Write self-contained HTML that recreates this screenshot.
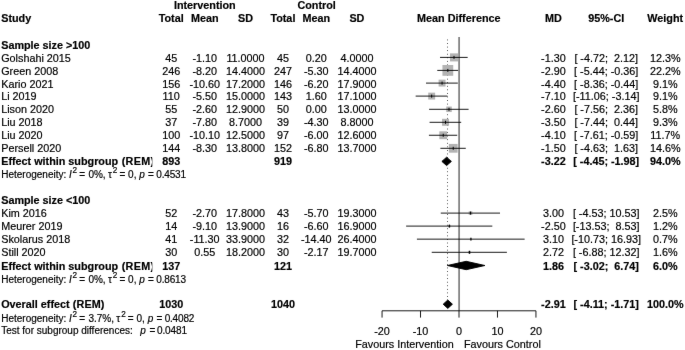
<!DOCTYPE html>
<html><head><meta charset="utf-8"><title>Forest plot</title>
<style>
html,body{margin:0;padding:0;background:#fff;}
svg{display:block;}
text{font-family:"Liberation Sans",sans-serif;fill:#000;white-space:pre;stroke:#000;stroke-width:0.18px;}
</style></head><body>
<svg width="685" height="350" viewBox="0 0 685 350">
<defs><filter id="soft" x="0" y="0" width="100%" height="100%" filterUnits="objectBoundingBox" color-interpolation-filters="sRGB"><feConvolveMatrix order="3" kernelMatrix="0.005 0.04 0.005 0.04 0.82 0.04 0.005 0.04 0.005" divisor="1" edgeMode="duplicate" preserveAlpha="false"/></filter><clipPath id="c1"><rect x="0" y="0" width="152.3" height="350"/></clipPath></defs>
<g filter="url(#soft)">
<rect width="685" height="350" fill="#fff"/>
<line x1="459.10" y1="37.0" x2="459.10" y2="310.8" stroke="#828282" stroke-width="1.75"/>
<line x1="447.50" y1="39.55" x2="447.50" y2="300.20" stroke="#000" stroke-width="0.8" stroke-dasharray="0.8,2.7625"/>
<rect x="449.98" y="53.38" width="8.04" height="8.04" fill="#b3b3b3"/>
<line x1="440.04" y1="57.40" x2="467.66" y2="57.40" stroke="#000" stroke-width="0.9"/>
<line x1="454.00" y1="55.90" x2="454.00" y2="58.90" stroke="#000" stroke-width="1.0"/>
<rect x="442.44" y="65.00" width="10.80" height="10.80" fill="#b3b3b3"/>
<line x1="437.27" y1="70.40" x2="458.11" y2="70.40" stroke="#000" stroke-width="0.9"/>
<line x1="447.84" y1="68.90" x2="447.84" y2="71.90" stroke="#000" stroke-width="1.0"/>
<rect x="438.61" y="79.64" width="6.91" height="6.91" fill="#b3b3b3"/>
<line x1="426.03" y1="83.10" x2="457.81" y2="83.10" stroke="#000" stroke-width="0.9"/>
<line x1="442.07" y1="81.60" x2="442.07" y2="84.60" stroke="#000" stroke-width="1.0"/>
<rect x="428.23" y="92.64" width="6.91" height="6.91" fill="#b3b3b3"/>
<line x1="415.65" y1="96.10" x2="447.42" y2="96.10" stroke="#000" stroke-width="0.9"/>
<line x1="431.68" y1="94.60" x2="431.68" y2="97.60" stroke="#000" stroke-width="1.0"/>
<rect x="446.24" y="106.54" width="5.52" height="5.52" fill="#b3b3b3"/>
<line x1="429.11" y1="109.30" x2="468.58" y2="109.30" stroke="#000" stroke-width="0.9"/>
<line x1="449.00" y1="107.80" x2="449.00" y2="110.80" stroke="#000" stroke-width="1.0"/>
<rect x="442.04" y="118.80" width="6.99" height="6.99" fill="#b3b3b3"/>
<line x1="429.57" y1="122.30" x2="461.19" y2="122.30" stroke="#000" stroke-width="0.9"/>
<line x1="445.53" y1="120.80" x2="445.53" y2="123.80" stroke="#000" stroke-width="1.0"/>
<rect x="439.31" y="131.33" width="7.84" height="7.84" fill="#b3b3b3"/>
<line x1="428.92" y1="135.25" x2="457.23" y2="135.25" stroke="#000" stroke-width="0.9"/>
<line x1="443.23" y1="133.75" x2="443.23" y2="136.75" stroke="#000" stroke-width="1.0"/>
<rect x="448.85" y="143.92" width="8.76" height="8.76" fill="#b3b3b3"/>
<line x1="440.39" y1="148.30" x2="465.77" y2="148.30" stroke="#000" stroke-width="0.9"/>
<line x1="453.23" y1="146.80" x2="453.23" y2="149.80" stroke="#000" stroke-width="1.0"/>
<polygon points="441.88,161.40 446.61,157.20 451.38,161.40 446.61,165.60" fill="#000" stroke="#000" stroke-width="0.9" stroke-linejoin="miter"/>
<rect x="468.73" y="211.29" width="3.62" height="3.62" fill="#b3b3b3"/>
<line x1="440.77" y1="213.10" x2="500.01" y2="213.10" stroke="#000" stroke-width="0.9"/>
<line x1="470.54" y1="211.60" x2="470.54" y2="214.60" stroke="#000" stroke-width="1.0"/>
<rect x="448.13" y="224.84" width="2.51" height="2.51" fill="#b3b3b3"/>
<line x1="406.14" y1="226.10" x2="492.32" y2="226.10" stroke="#000" stroke-width="0.9"/>
<line x1="449.38" y1="224.60" x2="449.38" y2="227.60" stroke="#000" stroke-width="1.0"/>
<rect x="469.97" y="238.19" width="1.92" height="1.92" fill="#b3b3b3"/>
<line x1="416.92" y1="239.15" x2="524.64" y2="239.15" stroke="#000" stroke-width="0.9"/>
<line x1="470.93" y1="237.65" x2="470.93" y2="240.65" stroke="#000" stroke-width="1.0"/>
<rect x="468.02" y="250.85" width="2.90" height="2.90" fill="#b3b3b3"/>
<line x1="431.73" y1="252.30" x2="506.90" y2="252.30" stroke="#000" stroke-width="0.9"/>
<line x1="469.47" y1="250.80" x2="469.47" y2="253.80" stroke="#000" stroke-width="1.0"/>
<polygon points="447.38,265.50 466.16,261.30 484.93,265.50 466.16,269.70" fill="#000" stroke="#000" stroke-width="0.9" stroke-linejoin="miter"/>
<polygon points="443.19,304.20 447.80,300.00 452.42,304.20 447.80,308.40" fill="#000" stroke="#000" stroke-width="0.9" stroke-linejoin="miter"/>
<line x1="382.05" y1="310.8" x2="535.95" y2="310.8" stroke="#000" stroke-width="0.9"/>
<line x1="382.05" y1="310.8" x2="382.05" y2="317.60" stroke="#000" stroke-width="0.9"/>
<line x1="420.52" y1="310.8" x2="420.52" y2="317.60" stroke="#000" stroke-width="0.9"/>
<line x1="459.00" y1="310.8" x2="459.00" y2="317.60" stroke="#000" stroke-width="0.9"/>
<line x1="497.48" y1="310.8" x2="497.48" y2="317.60" stroke="#000" stroke-width="0.9"/>
<line x1="535.95" y1="310.8" x2="535.95" y2="317.60" stroke="#000" stroke-width="0.9"/>
<text x="204.80" y="9.00" text-anchor="middle" font-size="10.8" font-weight="bold">Intervention</text>
<text x="316.60" y="9.00" text-anchor="middle" font-size="10.8" font-weight="bold">Control</text>
<text x="1.20" y="22.00" text-anchor="start" font-size="10.8" font-weight="bold">Study</text>
<text x="171.20" y="22.00" text-anchor="middle" font-size="10.8" font-weight="bold">Total</text>
<text x="204.70" y="22.00" text-anchor="middle" font-size="10.8" font-weight="bold">Mean</text>
<text x="245.50" y="22.00" text-anchor="middle" font-size="10.8" font-weight="bold">SD</text>
<text x="282.90" y="22.00" text-anchor="middle" font-size="10.8" font-weight="bold">Total</text>
<text x="316.20" y="22.00" text-anchor="middle" font-size="10.8" font-weight="bold">Mean</text>
<text x="356.90" y="22.00" text-anchor="middle" font-size="10.8" font-weight="bold">SD</text>
<text x="553.40" y="22.00" text-anchor="middle" font-size="10.8" font-weight="bold">MD</text>
<text x="606.20" y="22.00" text-anchor="middle" font-size="10.8" font-weight="bold">95%-CI</text>
<text x="665.20" y="22.00" text-anchor="middle" font-size="10.8" font-weight="bold">Weight</text>
<text x="458.80" y="22.00" text-anchor="middle" font-size="10.8" font-weight="bold">Mean Difference</text>
<text x="1.20" y="49.00" text-anchor="start" font-size="10.8" font-weight="bold">Sample size &gt;100</text>
<text x="1.20" y="62.00" text-anchor="start" font-size="10.8">Golshahi 2015</text>
<text x="171.20" y="62.00" text-anchor="middle" font-size="10.8">45</text>
<text x="204.70" y="62.00" text-anchor="middle" font-size="10.8">-1.10</text>
<text x="245.50" y="62.00" text-anchor="middle" font-size="10.8">11.0000</text>
<text x="282.90" y="62.00" text-anchor="middle" font-size="10.8">45</text>
<text x="316.20" y="62.00" text-anchor="middle" font-size="10.8">0.20</text>
<text x="356.90" y="62.00" text-anchor="middle" font-size="10.8">4.0000</text>
<text x="553.40" y="62.00" text-anchor="middle" font-size="10.8">-1.30</text>
<text x="606.20" y="62.00" text-anchor="middle" font-size="10.8">[ -4.72;  2.12]</text>
<text x="665.20" y="62.00" text-anchor="middle" font-size="10.8">12.3%</text>
<text x="1.20" y="75.00" text-anchor="start" font-size="10.8">Green 2008</text>
<text x="171.20" y="75.00" text-anchor="middle" font-size="10.8">246</text>
<text x="204.70" y="75.00" text-anchor="middle" font-size="10.8">-8.20</text>
<text x="245.50" y="75.00" text-anchor="middle" font-size="10.8">14.4000</text>
<text x="282.90" y="75.00" text-anchor="middle" font-size="10.8">247</text>
<text x="316.20" y="75.00" text-anchor="middle" font-size="10.8">-5.30</text>
<text x="356.90" y="75.00" text-anchor="middle" font-size="10.8">14.4000</text>
<text x="553.40" y="75.00" text-anchor="middle" font-size="10.8">-2.90</text>
<text x="606.20" y="75.00" text-anchor="middle" font-size="10.8">[ -5.44; -0.36]</text>
<text x="665.20" y="75.00" text-anchor="middle" font-size="10.8">22.2%</text>
<text x="1.20" y="88.00" text-anchor="start" font-size="10.8">Kario 2021</text>
<text x="171.20" y="88.00" text-anchor="middle" font-size="10.8">156</text>
<text x="204.70" y="88.00" text-anchor="middle" font-size="10.8">-10.60</text>
<text x="245.50" y="88.00" text-anchor="middle" font-size="10.8">17.2000</text>
<text x="282.90" y="88.00" text-anchor="middle" font-size="10.8">146</text>
<text x="316.20" y="88.00" text-anchor="middle" font-size="10.8">-6.20</text>
<text x="356.90" y="88.00" text-anchor="middle" font-size="10.8">17.9000</text>
<text x="553.40" y="88.00" text-anchor="middle" font-size="10.8">-4.40</text>
<text x="606.20" y="88.00" text-anchor="middle" font-size="10.8">[ -8.36; -0.44]</text>
<text x="665.20" y="88.00" text-anchor="middle" font-size="10.8">9.1%</text>
<text x="1.20" y="100.00" text-anchor="start" font-size="10.8">Li 2019</text>
<text x="171.20" y="100.00" text-anchor="middle" font-size="10.8">110</text>
<text x="204.70" y="100.00" text-anchor="middle" font-size="10.8">-5.50</text>
<text x="245.50" y="100.00" text-anchor="middle" font-size="10.8">15.0000</text>
<text x="282.90" y="100.00" text-anchor="middle" font-size="10.8">143</text>
<text x="316.20" y="100.00" text-anchor="middle" font-size="10.8">1.60</text>
<text x="356.90" y="100.00" text-anchor="middle" font-size="10.8">17.1000</text>
<text x="553.40" y="100.00" text-anchor="middle" font-size="10.8">-7.10</text>
<text x="606.20" y="100.00" text-anchor="middle" font-size="10.8">[-11.06; -3.14]</text>
<text x="665.20" y="100.00" text-anchor="middle" font-size="10.8">9.1%</text>
<text x="1.20" y="113.00" text-anchor="start" font-size="10.8">Lison 2020</text>
<text x="171.20" y="113.00" text-anchor="middle" font-size="10.8">55</text>
<text x="204.70" y="113.00" text-anchor="middle" font-size="10.8">-2.60</text>
<text x="245.50" y="113.00" text-anchor="middle" font-size="10.8">12.9000</text>
<text x="282.90" y="113.00" text-anchor="middle" font-size="10.8">50</text>
<text x="316.20" y="113.00" text-anchor="middle" font-size="10.8">0.00</text>
<text x="356.90" y="113.00" text-anchor="middle" font-size="10.8">13.0000</text>
<text x="553.40" y="113.00" text-anchor="middle" font-size="10.8">-2.60</text>
<text x="606.20" y="113.00" text-anchor="middle" font-size="10.8">[ -7.56;  2.36]</text>
<text x="665.20" y="113.00" text-anchor="middle" font-size="10.8">5.8%</text>
<text x="1.20" y="126.00" text-anchor="start" font-size="10.8">Liu 2018</text>
<text x="171.20" y="126.00" text-anchor="middle" font-size="10.8">37</text>
<text x="204.70" y="126.00" text-anchor="middle" font-size="10.8">-7.80</text>
<text x="245.50" y="126.00" text-anchor="middle" font-size="10.8">8.7000</text>
<text x="282.90" y="126.00" text-anchor="middle" font-size="10.8">39</text>
<text x="316.20" y="126.00" text-anchor="middle" font-size="10.8">-4.30</text>
<text x="356.90" y="126.00" text-anchor="middle" font-size="10.8">8.8000</text>
<text x="553.40" y="126.00" text-anchor="middle" font-size="10.8">-3.50</text>
<text x="606.20" y="126.00" text-anchor="middle" font-size="10.8">[ -7.44;  0.44]</text>
<text x="665.20" y="126.00" text-anchor="middle" font-size="10.8">9.3%</text>
<text x="1.20" y="139.00" text-anchor="start" font-size="10.8">Liu 2020</text>
<text x="171.20" y="139.00" text-anchor="middle" font-size="10.8">100</text>
<text x="204.70" y="139.00" text-anchor="middle" font-size="10.8">-10.10</text>
<text x="245.50" y="139.00" text-anchor="middle" font-size="10.8">12.5000</text>
<text x="282.90" y="139.00" text-anchor="middle" font-size="10.8">97</text>
<text x="316.20" y="139.00" text-anchor="middle" font-size="10.8">-6.00</text>
<text x="356.90" y="139.00" text-anchor="middle" font-size="10.8">12.6000</text>
<text x="553.40" y="139.00" text-anchor="middle" font-size="10.8">-4.10</text>
<text x="606.20" y="139.00" text-anchor="middle" font-size="10.8">[ -7.61; -0.59]</text>
<text x="665.20" y="139.00" text-anchor="middle" font-size="10.8">11.7%</text>
<text x="1.20" y="152.00" text-anchor="start" font-size="10.8">Persell 2020</text>
<text x="171.20" y="152.00" text-anchor="middle" font-size="10.8">144</text>
<text x="204.70" y="152.00" text-anchor="middle" font-size="10.8">-8.30</text>
<text x="245.50" y="152.00" text-anchor="middle" font-size="10.8">13.8000</text>
<text x="282.90" y="152.00" text-anchor="middle" font-size="10.8">152</text>
<text x="316.20" y="152.00" text-anchor="middle" font-size="10.8">-6.80</text>
<text x="356.90" y="152.00" text-anchor="middle" font-size="10.8">13.7000</text>
<text x="553.40" y="152.00" text-anchor="middle" font-size="10.8">-1.50</text>
<text x="606.20" y="152.00" text-anchor="middle" font-size="10.8">[ -4.63;  1.63]</text>
<text x="665.20" y="152.00" text-anchor="middle" font-size="10.8">14.6%</text>
<text x="1.20" y="165.00" text-anchor="start" font-size="10.8" font-weight="bold" clip-path="url(#c1)">Effect within subgroup <tspan dx="0.5" letter-spacing="0.3">(REM)</tspan></text>
<text x="171.20" y="165.00" text-anchor="middle" font-size="10.8" font-weight="bold">893</text>
<text x="282.90" y="165.00" text-anchor="middle" font-size="10.8" font-weight="bold">919</text>
<text x="553.40" y="165.00" text-anchor="middle" font-size="10.8" font-weight="bold">-3.22</text>
<text x="606.20" y="165.00" text-anchor="middle" font-size="10.8" font-weight="bold">[ -4.45; -1.98]</text>
<text x="665.20" y="165.00" text-anchor="middle" font-size="10.8" font-weight="bold">94.0%</text>
<text x="1.20" y="178.00" text-anchor="start" font-size="10.0">Heterogeneity: <tspan font-style="italic">I</tspan><tspan dx="0.6" dy="-4.6" font-size="8.2">2</tspan><tspan dy="4.6" dx="-0.6"> = </tspan><tspan dx="0.6">0%,</tspan><tspan dx="-0.4"> τ</tspan><tspan dx="0.9" dy="-4.6" font-size="8.2">2</tspan><tspan dy="4.6" dx="-0.7"> = 0,</tspan><tspan dx="0.1"> </tspan><tspan font-style="italic">p</tspan><tspan dx="0.4"> = </tspan><tspan dx="-0.4" letter-spacing="-0.18">0.4531</tspan></text>
<text x="1.20" y="204.00" text-anchor="start" font-size="10.8" font-weight="bold">Sample size &lt;100</text>
<text x="1.20" y="217.00" text-anchor="start" font-size="10.8">Kim 2016</text>
<text x="171.20" y="217.00" text-anchor="middle" font-size="10.8">52</text>
<text x="204.70" y="217.00" text-anchor="middle" font-size="10.8">-2.70</text>
<text x="245.50" y="217.00" text-anchor="middle" font-size="10.8">17.8000</text>
<text x="282.90" y="217.00" text-anchor="middle" font-size="10.8">43</text>
<text x="316.20" y="217.00" text-anchor="middle" font-size="10.8">-5.70</text>
<text x="356.90" y="217.00" text-anchor="middle" font-size="10.8">19.3000</text>
<text x="553.40" y="217.00" text-anchor="middle" font-size="10.8">3.00</text>
<text x="606.20" y="217.00" text-anchor="middle" font-size="10.8">[ -4.53; 10.53]</text>
<text x="665.20" y="217.00" text-anchor="middle" font-size="10.8">2.5%</text>
<text x="1.20" y="230.00" text-anchor="start" font-size="10.8">Meurer 2019</text>
<text x="171.20" y="230.00" text-anchor="middle" font-size="10.8">14</text>
<text x="204.70" y="230.00" text-anchor="middle" font-size="10.8">-9.10</text>
<text x="245.50" y="230.00" text-anchor="middle" font-size="10.8">13.9000</text>
<text x="282.90" y="230.00" text-anchor="middle" font-size="10.8">16</text>
<text x="316.20" y="230.00" text-anchor="middle" font-size="10.8">-6.60</text>
<text x="356.90" y="230.00" text-anchor="middle" font-size="10.8">16.9000</text>
<text x="553.40" y="230.00" text-anchor="middle" font-size="10.8">-2.50</text>
<text x="606.20" y="230.00" text-anchor="middle" font-size="10.8">[-13.53;  8.53]</text>
<text x="665.20" y="230.00" text-anchor="middle" font-size="10.8">1.2%</text>
<text x="1.20" y="243.00" text-anchor="start" font-size="10.8">Skolarus 2018</text>
<text x="171.20" y="243.00" text-anchor="middle" font-size="10.8">41</text>
<text x="204.70" y="243.00" text-anchor="middle" font-size="10.8">-11.30</text>
<text x="245.50" y="243.00" text-anchor="middle" font-size="10.8">33.9000</text>
<text x="282.90" y="243.00" text-anchor="middle" font-size="10.8">32</text>
<text x="316.20" y="243.00" text-anchor="middle" font-size="10.8">-14.40</text>
<text x="356.90" y="243.00" text-anchor="middle" font-size="10.8">26.4000</text>
<text x="553.40" y="243.00" text-anchor="middle" font-size="10.8">3.10</text>
<text x="606.20" y="243.00" text-anchor="middle" font-size="10.8">[-10.73; 16.93]</text>
<text x="665.20" y="243.00" text-anchor="middle" font-size="10.8">0.7%</text>
<text x="1.20" y="256.00" text-anchor="start" font-size="10.8">Still 2020</text>
<text x="171.20" y="256.00" text-anchor="middle" font-size="10.8">30</text>
<text x="204.70" y="256.00" text-anchor="middle" font-size="10.8">0.55</text>
<text x="245.50" y="256.00" text-anchor="middle" font-size="10.8">18.2000</text>
<text x="282.90" y="256.00" text-anchor="middle" font-size="10.8">30</text>
<text x="316.20" y="256.00" text-anchor="middle" font-size="10.8">-2.17</text>
<text x="356.90" y="256.00" text-anchor="middle" font-size="10.8">19.7000</text>
<text x="553.40" y="256.00" text-anchor="middle" font-size="10.8">2.72</text>
<text x="606.20" y="256.00" text-anchor="middle" font-size="10.8">[ -6.88; 12.32]</text>
<text x="665.20" y="256.00" text-anchor="middle" font-size="10.8">1.6%</text>
<text x="1.20" y="270.00" text-anchor="start" font-size="10.8" font-weight="bold" clip-path="url(#c1)">Effect within subgroup <tspan dx="0.5" letter-spacing="0.3">(REM)</tspan></text>
<text x="171.20" y="270.00" text-anchor="middle" font-size="10.8" font-weight="bold">137</text>
<text x="282.90" y="270.00" text-anchor="middle" font-size="10.8" font-weight="bold">121</text>
<text x="553.40" y="270.00" text-anchor="middle" font-size="10.8" font-weight="bold">1.86</text>
<text x="606.20" y="270.00" text-anchor="middle" font-size="10.8" font-weight="bold">[ -3.02;  6.74]</text>
<text x="665.20" y="270.00" text-anchor="middle" font-size="10.8" font-weight="bold">6.0%</text>
<text x="1.20" y="283.00" text-anchor="start" font-size="10.0">Heterogeneity: <tspan font-style="italic">I</tspan><tspan dx="0.6" dy="-4.6" font-size="8.2">2</tspan><tspan dy="4.6" dx="-0.6"> = </tspan><tspan dx="0.6">0%,</tspan><tspan dx="-0.4"> τ</tspan><tspan dx="0.9" dy="-4.6" font-size="8.2">2</tspan><tspan dy="4.6" dx="-0.7"> = 0,</tspan><tspan dx="0.1"> </tspan><tspan font-style="italic">p</tspan><tspan dx="0.4"> = </tspan><tspan dx="-0.4" letter-spacing="-0.18">0.8613</tspan></text>
<text x="1.20" y="308.00" text-anchor="start" font-size="10.8" font-weight="bold">Overall effect <tspan dx="0.2" letter-spacing="0.1">(REM)</tspan></text>
<text x="171.20" y="308.00" text-anchor="middle" font-size="10.8" font-weight="bold">1030</text>
<text x="282.90" y="308.00" text-anchor="middle" font-size="10.8" font-weight="bold">1040</text>
<text x="553.40" y="308.00" text-anchor="middle" font-size="10.8" font-weight="bold">-2.91</text>
<text x="606.20" y="308.00" text-anchor="middle" font-size="10.8" font-weight="bold">[ -4.11; -1.71]</text>
<text x="665.20" y="308.00" text-anchor="middle" font-size="10.8" font-weight="bold">100.0%</text>
<text x="1.20" y="322.00" text-anchor="start" font-size="10.0">Heterogeneity: <tspan font-style="italic">I</tspan><tspan dx="0.6" dy="-4.6" font-size="8.2">2</tspan><tspan dy="4.6" dx="-0.6"> = </tspan><tspan dx="0.6">3.7%,</tspan><tspan dx="-0.4"> τ</tspan><tspan dx="0.9" dy="-4.6" font-size="8.2">2</tspan><tspan dy="4.6" dx="-0.7"> = 0,</tspan><tspan dx="0.1"> </tspan><tspan font-style="italic">p</tspan><tspan dx="0.4"> = </tspan><tspan dx="-0.4" letter-spacing="-0.18">0.4082</tspan></text>
<text x="1.20" y="334.00" text-anchor="start" font-size="10.0">Test for subgroup differences:  <tspan dx="1.9" font-style="italic">p</tspan><tspan dx="1.0"> = </tspan><tspan dx="-1.2" letter-spacing="-0.1">0.0481</tspan></text>
<text x="382.05" y="334.90" text-anchor="middle" font-size="10.8">-20</text>
<text x="420.52" y="334.90" text-anchor="middle" font-size="10.8">-10</text>
<text x="459.00" y="334.90" text-anchor="middle" font-size="10.8">0</text>
<text x="497.48" y="334.90" text-anchor="middle" font-size="10.8">10</text>
<text x="535.95" y="334.90" text-anchor="middle" font-size="10.8">20</text>
<text x="453.70" y="348.00" text-anchor="end" font-size="10.8">Favours Intervention</text>
<text x="464.00" y="348.00" text-anchor="start" font-size="10.8">Favours Control</text>
</g>
</svg>
</body></html>
